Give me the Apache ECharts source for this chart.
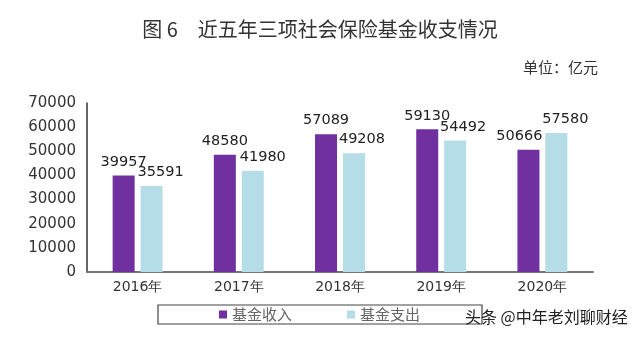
<!DOCTYPE html>
<html><head><meta charset="utf-8">
<script src="https://cdn.jsdelivr.net/npm/echarts@6/dist/echarts.min.js"></script>
<style>html,body{margin:0;padding:0;background:#fff}#c{width:640px;height:338px}</style>
</head><body><div id="c"></div>
<script>
const categories = ['2016年','2017年','2018年','2019年','2020年'];
const income = [39957, 48580, 57089, 59130, 50666];
const expense = [35591, 41980, 49208, 54492, 57580];
const yTicks = [0,10000,20000,30000,40000,50000,60000,70000];
const seriesNames = ['基金收入','基金支出'];

// label horizontal nudges (style only)
const incomeShift = [0, 0, 0, 0, -9];
const expenseShift = [9, 10, 8, 8, 9];

const chart = echarts.init(document.getElementById('c'));
const labelStyle = {show:true, position:'top', color:'#222', fontSize:14.5, fontFamily:'DejaVu Sans', distance:6};
chart.setOption({
  animation:false,
  title:{text:'图 6　近五年三项社会保险基金收支情况', left:'center', top:14,
    textStyle:{fontSize:20, fontWeight:'normal', color:'#333', fontFamily:'Noto Sans CJK SC'}},
  graphic:[
    {type:'text', right:42, top:60, style:{text:'单位：亿元', fontSize:15, fill:'#333', fontFamily:'Noto Sans CJK SC'}},
    {type:'rect', shape:{x:158, y:305, width:324, height:19}, style:{fill:'none', stroke:'#444', lineWidth:1.2}},
    {type:'text', left:465, top:309, style:{text:'头条 @中年老刘聊财经', fontSize:16, fill:'#222', fontFamily:'Noto Sans CJK SC'}}
  ],
  legend:{data:seriesNames, left:214, top:302, itemWidth:8, itemHeight:8, itemGap:55, icon:'rect',
    textStyle:{fontSize:15, color:'#666', fontFamily:'Noto Sans CJK SC'}},
  grid:{left:87, right:47, top:103, bottom:66},
  xAxis:{type:'category', data:categories,
    axisLine:{lineStyle:{color:'#777', width:2}}, axisTick:{show:false},
    axisLabel:{color:'#333', fontSize:14, fontFamily:'DejaVu Sans', margin:8}},
  yAxis:{type:'value', min:0, max:70000, interval:10000,
    axisLine:{show:true, lineStyle:{color:'#333', width:1.5}}, axisTick:{show:false}, splitLine:{show:false},
    axisLabel:{color:'#333', fontSize:15, fontFamily:'DejaVu Sans', margin:11, formatter:v=>String(v)}},
  series:[
    {name:seriesNames[0], type:'bar', barWidth:22, barGap:'27%', itemStyle:{color:'#7030A0'}, label:labelStyle,
      data:income.map((v,i)=>({value:v, label:{offset:[incomeShift[i],0]}}))},
    {name:seriesNames[1], type:'bar', barWidth:22, itemStyle:{color:'#B4DDE8'}, label:labelStyle,
      data:expense.map((v,i)=>({value:v, label:{offset:[expenseShift[i],0]}}))}
  ]
});
</script></body></html>
